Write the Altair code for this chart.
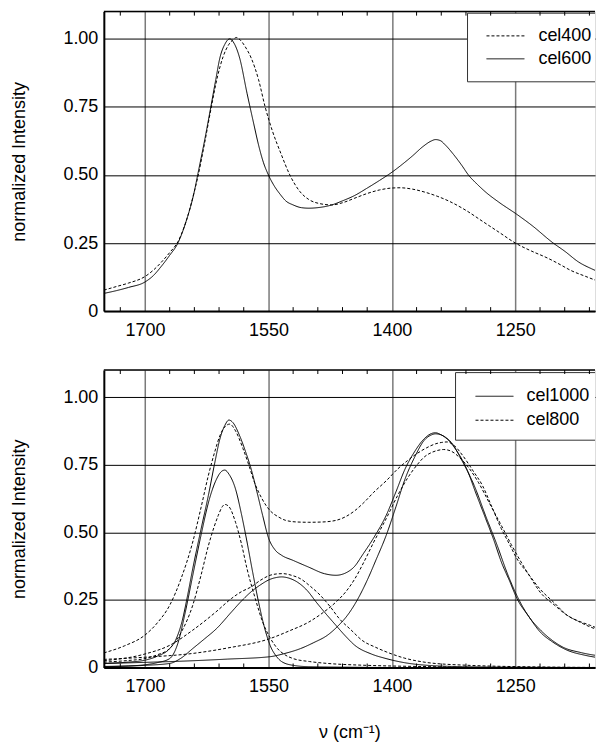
import altair as alt
import pandas as pd

# ---------------- axes ----------------
W = 492
PX_PER_UNIT = 0.8244
X_DOMAIN = [1750, round(1750 - W / PX_PER_UNIT, 1)]
X_TICKS = [1700, 1550, 1400, 1250]
X_MINOR = [1730, 1670, 1640, 1610, 1580, 1520, 1490, 1460, 1430, 1370,
           1340, 1310, 1280, 1220, 1190, 1160]
Y_DOMAIN = [0, 1.1]
Y_TICKS = [0, 0.25, 0.5, 0.75, 1.0]
Y_TITLE = "normalized Intensity"
X_TITLE = "ν  (cm⁻¹)"

# ---------------- top panel ----------------
cel600_nu = [1750, 1735, 1720, 1700, 1690, 1680, 1670, 1660, 1650, 1640,
             1636, 1628, 1620, 1614, 1609, 1603, 1597, 1592, 1585, 1576,
             1568, 1562, 1556, 1550, 1543, 1536, 1529, 1520, 1510, 1501,
             1490, 1473, 1460, 1445, 1431, 1415, 1400, 1387, 1375, 1362,
             1352, 1347, 1341, 1335, 1325, 1315, 1307, 1296, 1286, 1270,
             1248, 1230, 1204, 1190, 1173, 1157, 1141]
cel600_int = [0.065, 0.075, 0.087, 0.107, 0.13, 0.165, 0.205, 0.25, 0.33, 0.44,
              0.50, 0.62, 0.75, 0.85, 0.93, 0.98, 1.0, 0.985, 0.93, 0.80,
              0.69, 0.61, 0.545, 0.50, 0.46, 0.43, 0.405, 0.39, 0.38, 0.378,
              0.38, 0.39, 0.405, 0.425, 0.45, 0.48, 0.51, 0.54, 0.57, 0.605,
              0.625, 0.63, 0.626, 0.61, 0.575, 0.535, 0.50, 0.465, 0.437, 0.40,
              0.355, 0.315, 0.25, 0.22, 0.18, 0.155, 0.135]

cel400_nu = [1750, 1735, 1720, 1700, 1690, 1680, 1670, 1660, 1650, 1640,
             1636, 1628, 1620, 1612, 1605, 1598, 1593, 1589, 1584, 1578,
             1571, 1562, 1554, 1545, 1535, 1524, 1512, 1501, 1488, 1473,
             1460, 1445, 1430, 1415, 1400, 1390, 1375, 1360, 1345, 1330,
             1310, 1290, 1270, 1250, 1230, 1211, 1195, 1183, 1165, 1141]
cel400_int = [0.077, 0.09, 0.103, 0.127, 0.15, 0.18, 0.215, 0.255, 0.33, 0.44,
              0.49, 0.61, 0.74, 0.86, 0.935, 0.98, 0.997, 1.005, 0.995, 0.97,
              0.93, 0.85, 0.75, 0.66, 0.58, 0.50, 0.44, 0.41, 0.395, 0.39,
              0.398, 0.415, 0.432, 0.445, 0.452, 0.453, 0.448, 0.437, 0.422, 0.403,
              0.37, 0.33, 0.29, 0.25, 0.22, 0.195, 0.17, 0.15, 0.128, 0.10]

# ---------------- bottom panel: cel1000 (solid) ----------------
cel1000_fit_nu = [1750, 1720, 1700, 1685, 1670, 1663, 1655, 1648, 1642, 1632,
                  1623, 1615, 1609, 1603, 1598, 1593, 1585, 1578, 1571, 1564,
                  1557, 1550, 1542, 1534, 1520, 1501, 1482, 1468, 1454, 1445,
                  1436, 1422, 1407, 1395, 1384, 1372, 1361, 1352, 1347, 1340,
                  1328, 1314, 1300, 1286, 1272, 1260, 1248, 1234, 1220, 1205,
                  1192, 1170, 1141]
cel1000_fit_int = [0.015, 0.02, 0.027, 0.042, 0.07, 0.10, 0.17, 0.27, 0.365, 0.51,
                   0.636, 0.76, 0.845, 0.895, 0.915, 0.905, 0.857, 0.80, 0.734, 0.65,
                   0.562, 0.48, 0.435, 0.415, 0.396, 0.371, 0.347, 0.341, 0.353, 0.375,
                   0.415, 0.48, 0.562, 0.65, 0.734, 0.80, 0.845, 0.865, 0.868, 0.86,
                   0.833, 0.76, 0.673, 0.56, 0.451, 0.35, 0.265, 0.19, 0.14, 0.1,
                   0.075, 0.055, 0.04]

cel1000_b1_nu = [1750, 1720, 1700, 1685, 1670, 1660, 1651, 1642, 1632, 1622,
                 1613, 1607, 1603, 1598, 1590, 1583, 1576, 1569, 1562, 1555,
                 1548, 1540, 1534, 1520, 1501, 1450, 1400, 1300, 1141]
cel1000_b1_int = [0.004, 0.006, 0.01, 0.018, 0.033, 0.09, 0.205, 0.34, 0.488, 0.62,
                  0.697, 0.725, 0.73, 0.715, 0.66, 0.57, 0.464, 0.35, 0.242, 0.15,
                  0.082, 0.04, 0.022, 0.008, 0.003, 0.001, 0.0, 0.0, 0.0]

cel1000_b2_nu = [1750, 1700, 1670, 1656, 1642, 1628, 1613, 1595, 1583, 1571,
                 1560, 1548, 1540, 1534, 1527, 1515, 1503, 1492, 1480, 1468,
                 1456, 1445, 1425, 1407, 1385, 1361, 1314, 1250, 1141]
cel1000_b2_int = [0.003, 0.008, 0.015, 0.035, 0.07, 0.105, 0.144, 0.205, 0.245, 0.28,
                  0.305, 0.326, 0.333, 0.335, 0.332, 0.316, 0.285, 0.242, 0.198, 0.156,
                  0.115, 0.082, 0.05, 0.033, 0.018, 0.009, 0.003, 0.001, 0.0]

cel1000_b3_nu = [1750, 1700, 1642, 1600, 1548, 1530, 1511, 1495, 1478, 1466,
                 1454, 1442, 1431, 1419, 1407, 1395, 1384, 1372, 1361, 1352,
                 1347, 1340, 1333, 1321, 1309, 1298, 1286, 1276, 1267, 1257,
                 1248, 1234, 1220, 1205, 1187, 1165, 1141]
cel1000_b3_int = [0.015, 0.019, 0.025, 0.031, 0.04, 0.052, 0.07, 0.092, 0.12, 0.152,
                  0.193, 0.25, 0.316, 0.40, 0.488, 0.595, 0.697, 0.78, 0.839, 0.86,
                  0.864, 0.86, 0.845, 0.80, 0.734, 0.645, 0.55, 0.47, 0.39, 0.32,
                  0.255, 0.19, 0.132, 0.095, 0.064, 0.045, 0.033]

# ---------------- bottom panel: cel800 (dashed) ----------------
cel800_fit_nu = [1750, 1725, 1700, 1685, 1670, 1656, 1642, 1632, 1623, 1615,
                 1609, 1603, 1597, 1590, 1581, 1574, 1567, 1558, 1548, 1538,
                 1529, 1515, 1501, 1485, 1468, 1456, 1445, 1434, 1422, 1407,
                 1393, 1381, 1370, 1358, 1347, 1340, 1333, 1324, 1314, 1302,
                 1290, 1278, 1267, 1257, 1248, 1234, 1220, 1203, 1187, 1170,
                 1159, 1141]
cel800_fit_int = [0.054, 0.08, 0.12, 0.165, 0.23, 0.33, 0.464, 0.59, 0.71, 0.80,
                  0.857, 0.89, 0.9, 0.875, 0.81, 0.75, 0.685, 0.625, 0.58, 0.557,
                  0.544, 0.538, 0.537, 0.538, 0.544, 0.558, 0.58, 0.61, 0.648, 0.69,
                  0.734, 0.765, 0.79, 0.812, 0.827, 0.832, 0.834, 0.82, 0.784, 0.73,
                  0.673, 0.59, 0.513, 0.455, 0.402, 0.345, 0.29, 0.24, 0.193, 0.168,
                  0.156, 0.132]

cel800_b1_nu = [1750, 1720, 1700, 1685, 1670, 1656, 1642, 1632, 1623, 1616,
                1611, 1606, 1603, 1598, 1590, 1583, 1576, 1566, 1557, 1548,
                1539, 1530, 1520, 1500, 1478, 1440, 1407, 1350, 1300, 1141]
cel800_b1_int = [0.02, 0.026, 0.033, 0.047, 0.07, 0.13, 0.23, 0.34, 0.45, 0.52,
                 0.562, 0.595, 0.603, 0.595, 0.537, 0.46, 0.365, 0.255, 0.168, 0.11,
                 0.07, 0.047, 0.033, 0.022, 0.015, 0.009, 0.006, 0.003, 0.0, 0.0]

cel800_b2_nu = [1750, 1700, 1670, 1642, 1614, 1595, 1583, 1571, 1560, 1548,
                1540, 1532, 1522, 1511, 1499, 1487, 1475, 1464, 1450, 1436,
                1420, 1407, 1385, 1361, 1314, 1220, 1141]
cel800_b2_int = [0.025, 0.05, 0.082, 0.138, 0.205, 0.255, 0.28, 0.298, 0.322, 0.341,
                 0.346, 0.347, 0.341, 0.328, 0.3, 0.267, 0.225, 0.181, 0.14, 0.10,
                 0.075, 0.058, 0.035, 0.02, 0.009, 0.002, 0.0]

cel800_b3_nu = [1750, 1700, 1642, 1600, 1548, 1525, 1501, 1485, 1468, 1456,
                1445, 1434, 1422, 1407, 1393, 1381, 1370, 1360, 1351, 1344,
                1337, 1328, 1318, 1307, 1295, 1281, 1267, 1255, 1243, 1231,
                1220, 1203, 1187, 1173, 1159, 1141]
cel800_b3_int = [0.03, 0.038, 0.052, 0.072, 0.107, 0.135, 0.168, 0.2, 0.242, 0.28,
                 0.328, 0.39, 0.464, 0.55, 0.636, 0.70, 0.747, 0.78, 0.796, 0.803,
                 0.806, 0.8, 0.777, 0.74, 0.685, 0.605, 0.525, 0.455, 0.39, 0.33,
                 0.279, 0.232, 0.193, 0.17, 0.15, 0.132]

TOP_SERIES = ["cel400", "cel600"]
BOTTOM_SERIES = ["cel1000", "cel800"]

# ---------------- layout / style ----------------
H_TOP = 300
H_BOT = 298
FONT = "Liberation Sans"
FS = 18
DASH = [3, 2]
SOLID = [1, 0]


def frame(curves):
    rows = []
    for series, curve, nus, ints in curves:
        for n, v in zip(nus, ints):
            rows.append({"nu": n, "intensity": v, "series": series, "curve": curve})
    return pd.DataFrame(rows)


top_df = frame([
    ("cel400", "cel400", cel400_nu, cel400_int),
    ("cel600", "cel600", cel600_nu, cel600_int),
])
bot_df = frame([
    ("cel1000", "cel1000 fit", cel1000_fit_nu, cel1000_fit_int),
    ("cel1000", "cel1000 b1", cel1000_b1_nu, cel1000_b1_int),
    ("cel1000", "cel1000 b2", cel1000_b2_nu, cel1000_b2_int),
    ("cel1000", "cel1000 b3", cel1000_b3_nu, cel1000_b3_int),
    ("cel800", "cel800 fit", cel800_fit_nu, cel800_fit_int),
    ("cel800", "cel800 b1", cel800_b1_nu, cel800_b1_int),
    ("cel800", "cel800 b2", cel800_b2_nu, cel800_b2_int),
    ("cel800", "cel800 b3", cel800_b3_nu, cel800_b3_int),
])

xscale = alt.Scale(domain=X_DOMAIN, nice=False, zero=False)
yscale = alt.Scale(domain=Y_DOMAIN, nice=False, zero=False)


def panel(df, height, series, dashes, legend, show_xtitle):
    x_axis_kwargs = dict(values=X_TICKS, format="d", grid=True, gridColor="#7a7a7a",
                         gridWidth=1.5, ticks=False, labelFontSize=FS, labelFont=FONT,
                         labelColor="black", labelPadding=10, domainColor="black",
                         domainWidth=2, labelFlush=False)
    if show_xtitle:
        x_axis_kwargs.update(title=X_TITLE, titleFontSize=FS, titleFont=FONT,
                             titleFontWeight="normal", titleColor="black",
                             titleY=70, titleBaseline="alphabetic")
    else:
        x_axis_kwargs.update(title=None)
    x_axis = alt.Axis(**x_axis_kwargs)

    lines = alt.Chart(df).mark_line(color="black", strokeWidth=1,
                                    interpolate="monotone", clip=True).encode(
        x=alt.X("nu:Q", scale=xscale, axis=x_axis),
        y=alt.Y("intensity:Q", scale=yscale, axis=alt.Axis(
            values=Y_TICKS, grid=True, gridColor="black", gridWidth=1, ticks=False,
            labelExpr="datum.value == 0 ? '0' : format(datum.value, '.2f')",
            labelFontSize=FS, labelFont=FONT, labelColor="black", labelPadding=6,
            domainColor="black", domainWidth=2,
            title=Y_TITLE, titleFontSize=FS, titleFont=FONT, titleFontWeight="normal",
            titleColor="black", titleX=-84, titleBaseline="middle")),
        strokeDash=alt.StrokeDash("series:N", scale=alt.Scale(domain=series, range=dashes),
                                  legend=None),
        detail="curve:N",
        order=alt.Order("nu:Q", sort="descending"),
    )

    minor = pd.DataFrame({"nu": X_MINOR})
    tick_bot = alt.Chart(minor).mark_rule(color="black", strokeWidth=1).encode(
        x=alt.X("nu:Q", scale=xscale, axis=x_axis), y=alt.value(height), y2=alt.value(height - 4))
    tick_top = alt.Chart(minor).mark_rule(color="black", strokeWidth=1).encode(
        x=alt.X("nu:Q", scale=xscale, axis=x_axis), y=alt.value(0), y2=alt.value(4))

    one = pd.DataFrame({"a": [0]})
    border = alt.Chart(one).mark_rule(color="black", strokeWidth=1.5).encode(
        x=alt.value(0), x2=alt.value(W), y=alt.value(0))
    bx, by0, by1 = legend["box"]
    box = alt.Chart(one).mark_rect(fill="white", strokeWidth=0).encode(
        x=alt.value(bx), x2=alt.value(W), y=alt.value(by0), y2=alt.value(by1))
    edge_style = dict(color="#333333", strokeWidth=1)
    box_top = alt.Chart(one).mark_rule(**edge_style).encode(
        x=alt.value(bx), x2=alt.value(W), y=alt.value(by0))
    box_bot = alt.Chart(one).mark_rule(**edge_style).encode(
        x=alt.value(bx), x2=alt.value(W), y=alt.value(by1))
    box_left = alt.Chart(one).mark_rule(**edge_style).encode(
        x=alt.value(bx), y=alt.value(by0), y2=alt.value(by1))
    layers = [lines, box, box_top, box_bot, box_left]
    for (label, dash, ypos) in legend["items"]:
        layers.append(alt.Chart(one).mark_rule(color="black", strokeWidth=1, strokeDash=dash).encode(
            x=alt.value(legend["line"][0]), x2=alt.value(legend["line"][1]), y=alt.value(ypos)))
        layers.append(alt.Chart(one).mark_text(align="left", baseline="middle", font=FONT,
                                               fontSize=FS, color="black").encode(
            x=alt.value(legend["text"]), y=alt.value(ypos), text=alt.value(label)))
    layers += [border, tick_bot, tick_top]
    return alt.layer(*layers).properties(width=W, height=height)


top = panel(top_df, H_TOP, TOP_SERIES, [DASH, SOLID],
            {"box": (364.3, 1.6, 70.3), "line": (383.3, 421.3), "text": 435.3,
             "items": [(TOP_SERIES[0], DASH, 24.3), (TOP_SERIES[1], SOLID, 47.3)]},
            False)
bottom = panel(bot_df, H_BOT, BOTTOM_SERIES, [SOLID, DASH],
               {"box": (352.3, 2.6, 70.3), "line": (372.3, 410.3), "text": 423.3,
                "items": [(BOTTOM_SERIES[0], SOLID, 26.3), (BOTTOM_SERIES[1], DASH, 50.3)]},
               True)

chart = alt.vconcat(top, bottom, spacing=59, bounds="flush").resolve_scale(
    strokeDash="independent"
).properties(
    padding={"left": 2, "top": 1, "right": 0, "bottom": 0}
).configure_view(strokeOpacity=0).configure(background="white")

chart.save("out.html", embed_options={"renderer": "svg", "actions": False})
